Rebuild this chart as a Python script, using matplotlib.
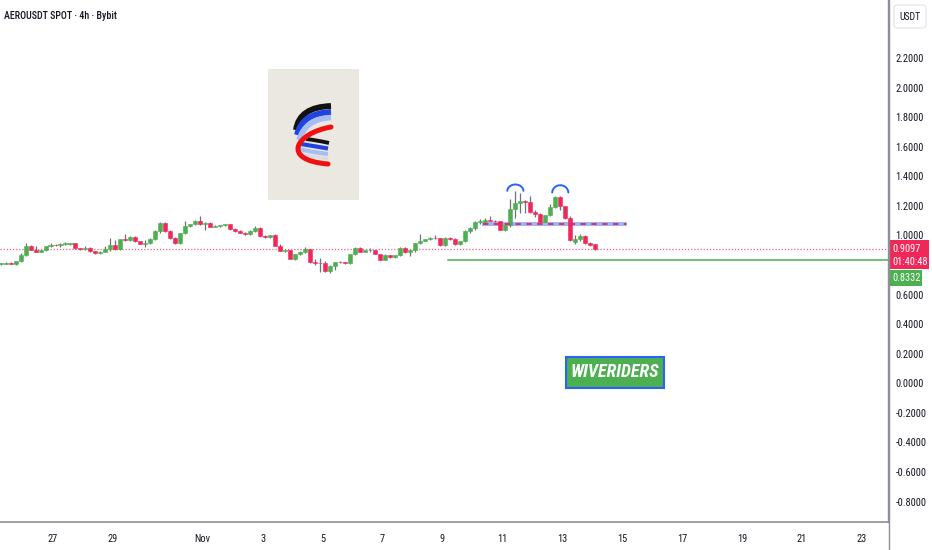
import matplotlib
matplotlib.use('Agg')
import matplotlib.pyplot as plt
import matplotlib.dates as mdates
from matplotlib.patches import Rectangle, FancyBboxPatch, PathPatch
from matplotlib.path import Path
from matplotlib import font_manager
from matplotlib.font_manager import FontProperties
import numpy as np
import pandas as pd


def find_font(keys):
    files = [f.fname for f in font_manager.fontManager.ttflist]
    for k in keys:
        for fn in files:
            if fn.split('/')[-1].lower() == k.lower():
                return fn
    return None

REG_FILE = find_font(['LiberationSansNarrow-Regular.ttf', 'RobotoCondensed-Regular.ttf',
                      'DejaVuSansCondensed.ttf', 'OpenSans_Condensed-Regular.ttf'])
MED_FILE = find_font(['RobotoCondensed-Medium.ttf', 'LiberationSansNarrow-Regular.ttf',
                      'RobotoCondensed-Regular.ttf', 'DejaVuSansCondensed.ttf'])
BI_FILE = find_font(['LiberationSansNarrow-BoldItalic.ttf', 'RobotoCondensed-BoldItalic.ttf',
                     'DejaVuSansCondensed-BoldOblique.ttf'])


def fp(size, bold_italic=False, medium=False):
    f = BI_FILE if bold_italic else (MED_FILE if medium else REG_FILE)
    if f:
        return FontProperties(fname=f, size=size)
    if bold_italic:
        return FontProperties(family='Liberation Sans', weight='bold', style='italic', size=size * 0.85)
    return FontProperties(family='Liberation Sans', size=size * 0.85)

# ---------------- data (4h candles, AERO/USDT) ----------------
opens = [0.805, 0.808, 0.811, 0.806, 0.826, 0.867, 0.928, 0.905, 0.889, 0.899,
         0.928, 0.938, 0.934, 0.945, 0.942, 0.946, 0.914, 0.908, 0.915, 0.894,
         0.882, 0.890, 0.910, 0.936, 0.912, 0.973, 0.968, 0.990, 0.960, 0.945,
         0.950, 0.975, 1.030, 1.085, 1.030, 0.982, 0.946, 1.015, 1.067, 1.075,
         1.100, 1.075, 1.085, 1.060, 1.065, 1.068, 1.075, 1.045, 1.030, 1.020,
         1.008, 1.030, 1.050, 0.995, 0.990, 1.000, 0.932, 0.898, 0.900, 0.842,
         0.875, 0.890, 0.909, 0.819, 0.815, 0.812, 0.758, 0.797, 0.820, 0.818,
         0.813, 0.875, 0.916, 0.890, 0.900, 0.902, 0.875, 0.837, 0.868, 0.855,
         0.868, 0.916, 0.885, 0.900, 0.946, 0.966, 0.973, 0.985, 0.980, 0.935,
         0.985, 0.975, 0.940, 0.961, 1.029, 1.050, 1.090, 1.093, 1.108, 1.100,
         1.095, 1.040, 1.074, 1.180, 1.220, 1.232, 1.225, 1.158, 1.145, 1.092,
         1.137, 1.190, 1.261, 1.198, 1.120, 0.955, 0.975, 0.995, 0.950, 0.940]
highs = [0.815, 0.818, 0.820, 0.830, 0.880, 0.946, 0.935, 0.928, 0.903, 0.932,
         0.948, 0.942, 0.950, 0.958, 0.950, 0.948, 0.918, 0.930, 0.920, 0.898,
         0.893, 0.930, 0.980, 0.970, 0.978, 1.013, 0.995, 0.995, 0.965, 0.970,
         0.980, 1.035, 1.090, 1.090, 1.040, 0.990, 1.020, 1.100, 1.080, 1.105,
         1.135, 1.090, 1.090, 1.070, 1.072, 1.080, 1.078, 1.050, 1.035, 1.024,
         1.035, 1.065, 1.055, 1.000, 1.005, 1.008, 0.940, 0.905, 0.905, 0.878,
         0.893, 0.920, 0.912, 0.840, 0.850, 0.830, 0.800, 0.823, 0.825, 0.822,
         0.877, 0.925, 0.920, 0.905, 0.913, 0.905, 0.878, 0.872, 0.871, 0.870,
         0.920, 0.920, 0.905, 0.950, 1.007, 0.978, 0.990, 1.005, 0.985, 0.990,
         0.990, 0.980, 0.965, 1.035, 1.055, 1.095, 1.110, 1.115, 1.130, 1.105,
         1.100, 1.080, 1.244, 1.300, 1.290, 1.240, 1.270, 1.170, 1.150, 1.140,
         1.215, 1.270, 1.265, 1.200, 1.130, 1.000, 1.010, 1.000, 0.955, 0.945]
lows = [0.800, 0.805, 0.805, 0.803, 0.820, 0.862, 0.900, 0.885, 0.886, 0.894,
        0.925, 0.930, 0.920, 0.938, 0.938, 0.910, 0.905, 0.900, 0.890, 0.878,
        0.878, 0.885, 0.895, 0.905, 0.905, 0.960, 0.962, 0.955, 0.940, 0.920,
        0.940, 0.970, 1.020, 1.025, 0.975, 0.940, 0.940, 1.010, 1.060, 1.070,
        1.070, 1.040, 1.055, 1.055, 1.060, 1.064, 1.040, 1.025, 1.015, 1.003,
        1.005, 1.025, 0.990, 0.985, 0.985, 0.928, 0.893, 0.885, 0.838, 0.836,
        0.868, 0.880, 0.815, 0.800, 0.750, 0.752, 0.743, 0.765, 0.812, 0.810,
        0.808, 0.870, 0.885, 0.885, 0.890, 0.872, 0.833, 0.832, 0.850, 0.848,
        0.860, 0.880, 0.862, 0.890, 0.940, 0.962, 0.968, 0.975, 0.930, 0.930,
        0.970, 0.935, 0.935, 0.955, 1.020, 1.040, 1.075, 1.085, 1.095, 1.090,
        1.035, 1.030, 1.060, 1.120, 1.150, 1.150, 1.155, 1.125, 1.088, 1.088,
        1.130, 1.185, 1.175, 1.110, 0.960, 0.940, 0.965, 0.945, 0.930, 0.905]
closes = [0.812, 0.811, 0.806, 0.826, 0.867, 0.928, 0.905, 0.889, 0.899, 0.928,
          0.938, 0.934, 0.945, 0.946, 0.946, 0.914, 0.908, 0.915, 0.894, 0.882,
          0.890, 0.910, 0.936, 0.912, 0.973, 0.968, 0.990, 0.960, 0.945, 0.950,
          0.975, 1.030, 1.085, 1.030, 0.982, 0.946, 1.015, 1.067, 1.075, 1.100,
          1.075, 1.085, 1.060, 1.065, 1.068, 1.075, 1.045, 1.030, 1.020, 1.008,
          1.030, 1.050, 0.995, 0.990, 1.000, 0.932, 0.898, 0.900, 0.842, 0.875,
          0.890, 0.909, 0.819, 0.815, 0.812, 0.758, 0.797, 0.820, 0.818, 0.813,
          0.875, 0.916, 0.890, 0.900, 0.902, 0.875, 0.837, 0.868, 0.855, 0.868,
          0.916, 0.885, 0.900, 0.946, 0.966, 0.973, 0.985, 0.980, 0.935, 0.985,
          0.975, 0.940, 0.961, 1.029, 1.050, 1.090, 1.093, 1.108, 1.100, 1.095,
          1.040, 1.074, 1.180, 1.220, 1.232, 1.225, 1.158, 1.145, 1.092, 1.137,
          1.190, 1.261, 1.198, 1.120, 0.968, 0.975, 0.995, 0.950, 0.935, 0.9097]

first_candle = '2024-10-25 04:00'
last_price = 0.9097
last_price_label = '0.9097'
countdown = '01:40:48'
support_price = 0.8332
support_label = '0.8332'
neckline_low, neckline_high, neckline_mid = 1.066, 1.090, 1.079
neckline_start, neckline_end = '2024-11-10 07:30', '2024-11-15 04:00'
support_start = '2024-11-09 04:30'
head_tops = [('2024-11-11 10:30', 1.345, 1.300), ('2024-11-12 22:30', 1.340, 1.288)]

tick_dates = ['2024-10-27', '2024-10-29', '2024-11-01', '2024-11-03', '2024-11-05',
              '2024-11-07', '2024-11-09', '2024-11-11', '2024-11-13', '2024-11-15',
              '2024-11-17', '2024-11-19', '2024-11-21', '2024-11-23']
tick_labels = ['27', '29', 'Nov', '3', '5', '7', '9', '11', '13', '15', '17', '19', '21', '23']
price_ticks = [2.2, 2.0, 1.8, 1.6, 1.4, 1.2, 1.0, 0.6, 0.4, 0.2, 0.0, -0.2, -0.4, -0.6, -0.8]

title = 'AEROUSDT SPOT · 4h · Bybit'
watermark = 'WIVERIDERS'

# ---------------- styling ----------------
GREEN = '#4caf50'
RED = '#f0285a'
WICK = '#6f727d'
TXT = '#131722'
AXLINE = '#8c8f99'

W, H = 932, 550
fig = plt.figure(figsize=(W / 100, H / 100), dpi=100)
fig.patch.set_facecolor('white')
ax = fig.add_axes([0, 28 / H, 888 / W, 522 / H])
ax.set_facecolor('white')

t = mdates.date2num((pd.date_range(first_candle, periods=len(closes), freq='4h')
                     + pd.Timedelta(hours=2)).to_pydatetime())
o = np.array(opens); c = np.array(closes); hi = np.array(highs); lo = np.array(lows)
cols = np.where(c >= o, GREEN, RED)
ax.vlines(t, lo, hi, color=WICK, lw=0.9, zorder=2)
body_b = np.minimum(o, c)
body_h = np.maximum(np.abs(c - o), 0.005)
ax.bar(t, body_h, bottom=body_b, width=0.135, color=cols, edgecolor=cols, lw=0.4, zorder=3)

base = mdates.date2num(pd.Timestamp('2024-10-27').to_pydatetime())
ax.set_xlim(base - 1.77, base + 27.88)
ax.set_ylim(-0.938, 2.593)

ax.axhline(last_price, color=RED, lw=0.9, ls=(0, (1, 1.5)), alpha=0.75, zorder=1)
s0 = mdates.date2num(pd.Timestamp(support_start).to_pydatetime())
ax.plot([s0, base + 27.88], [support_price, support_price], color=GREEN, lw=1.1, zorder=1)
n0 = mdates.date2num(pd.Timestamp(neckline_start).to_pydatetime())
n1 = mdates.date2num(pd.Timestamp(neckline_end).to_pydatetime())
ax.add_patch(Rectangle((n0, neckline_low), n1 - n0, neckline_high - neckline_low,
                       facecolor='#7d9bf2', alpha=0.75, edgecolor='none', zorder=1.5))
ax.plot([n0 + 0.03, n1 - 0.05], [neckline_mid, neckline_mid], color='#e8245e', lw=1.3,
        ls=(0, (3, 3)), zorder=4)
th = np.linspace(0.05, np.pi - 0.05, 40)
for d, top, end in head_tops:
    cx = mdates.date2num(pd.Timestamp(d).to_pydatetime())
    ax.plot(cx + 0.27 * np.cos(th), end + (top - end) * np.sin(th), color='#2962ff',
            lw=1.4, solid_capstyle='round', zorder=5)

for s in ['top', 'left']:
    ax.spines[s].set_visible(False)
ax.spines['right'].set_color(AXLINE)
ax.spines['bottom'].set_color(AXLINE)
ax.spines['bottom'].set_linewidth(1.2)
ax.spines['right'].set_linewidth(1.0)
ax.set_xticks([mdates.date2num(pd.Timestamp(d).to_pydatetime()) for d in tick_dates])
ax.set_xticklabels(tick_labels, color=TXT, fontproperties=fp(7.5))
ax.tick_params(axis='x', length=0, pad=8.5)
ax.yaxis.tick_right()
ax.set_yticks(price_ticks)
ax.set_yticklabels(['%.4f' % v for v in price_ticks], color=TXT, fontproperties=fp(7.5))
ax.tick_params(axis='y', length=0, pad=5.5)

wx0 = mdates.date2num(pd.Timestamp('2024-11-13 03:00').to_pydatetime())
wx1 = mdates.date2num(pd.Timestamp('2024-11-16 09:30').to_pydatetime())
ax.add_patch(Rectangle((wx0, -0.030), wx1 - wx0, 0.21, facecolor=GREEN,
                       edgecolor='#2962ff', lw=1.5, zorder=6))
ax.text((wx0 + wx1) / 2, 0.075, watermark, ha='center', va='center', color='white',
        fontproperties=fp(13, bold_italic=True), zorder=7)

# ---------------- overlay in pixel coordinates ----------------
ov = fig.add_axes([0, 0, 1, 1], zorder=10)
ov.set_xlim(0, W); ov.set_ylim(H, 0); ov.axis('off'); ov.patch.set_alpha(0)


def py(v):
    return H - ax.transData.transform((0, v))[1]

ov.plot([888.5, 888.5], [0, H], color=AXLINE, lw=1.0)
ov.text(4, 16, title, color=TXT, va='center', ha='left', fontproperties=fp(7.2, medium=True))
ov.add_patch(FancyBboxPatch((894, 5), 32, 23, boxstyle='round,pad=0,rounding_size=3',
                            facecolor='white', edgecolor='#e0e3eb', lw=0.8))
ov.text(910, 17, 'USDT', color=TXT, ha='center', va='center', fontproperties=fp(7))

yp = py(last_price)
ov.add_patch(Rectangle((889, yp - 8.5), 40, 28.5, facecolor=RED, edgecolor='none'))
ov.text(892, yp, last_price_label, color='white', va='center', ha='left', fontproperties=fp(7.5))
ov.text(892, yp + 13.5, countdown, color='white', va='center', ha='left', fontproperties=fp(7.5))
ys = yp + 21
ov.add_patch(Rectangle((889, ys), 33, 16, facecolor=GREEN, edgecolor='none'))
ov.text(892, ys + 8, support_label, color='white', va='center', ha='left', fontproperties=fp(7.5))

# logo
ov.add_patch(Rectangle((268, 69), 91, 131, facecolor='#ebe7e1', edgecolor='none'))
strokes = [
    ([(296, 130), (299, 107), (331, 106)], '#111111', 4.2),
    ([(297, 135), (302, 113), (331, 112)], '#1f44e0', 4.2),
    ([(299, 140), (305, 119), (331, 117.5)], '#a9bdf5', 4.0),
    ([(306, 139), (316, 140), (329, 143)], '#111111', 2.8),
    ([(301, 144), (313, 146), (328, 148.5)], '#1f44e0', 3.0),
    ([(299, 149), (311, 152), (328, 154)], '#a9bdf5', 3.0),
    ([(300, 154), (312, 157), (328, 158.5)], '#dcdde3', 2.6),
]
for pts, col, lw in strokes:
    ov.add_patch(PathPatch(Path(pts, [Path.MOVETO, Path.CURVE3, Path.CURVE3]),
                           facecolor='none', edgecolor=col, lw=lw, capstyle='butt'))
ov.add_patch(PathPatch(Path([(331, 127), (296, 133), (280, 160), (328, 164)],
                            [Path.MOVETO, Path.CURVE4, Path.CURVE4, Path.CURVE4]),
                       facecolor='none', edgecolor='#f01010', lw=3.6, capstyle='round'))

fig.savefig('out.png', dpi=100, facecolor='white')
